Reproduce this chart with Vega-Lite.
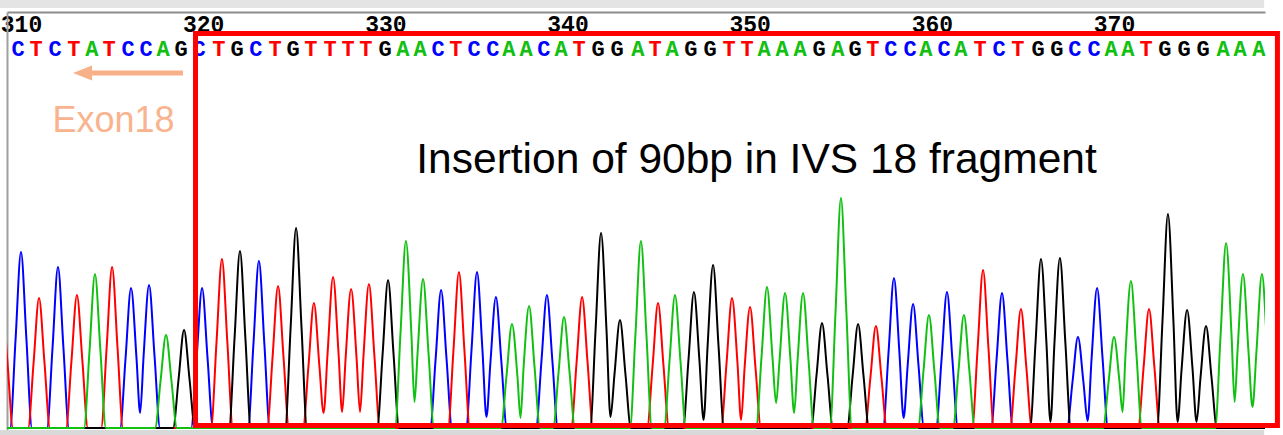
{
"$schema": "https://vega.github.io/schema/vega-lite/v6.json",
"width": 1258, "height": 423,
"autosize": {"type": "none"},
"padding": {"left": 7, "top": 12, "right": 18, "bottom": 0},
"background": "white",
"config": {"view": {"stroke": null}},
"datasets": {
"trace": [
{"c":"C","x":309.2,"y":0},{"c":"C","x":309.40,"y":0},{"c":"C","x":309.70,"y":88},{"c":"C","x":310.00,"y":176},{"c":"C","x":310.30,"y":88},{"c":"C","x":310.60,"y":0},
{"c":"C","x":311.43,"y":0},{"c":"C","x":311.73,"y":80},{"c":"C","x":312.03,"y":161},{"c":"C","x":312.33,"y":80},{"c":"C","x":312.63,"y":0},
{"c":"C","x":315.44,"y":0},{"c":"C","x":315.74,"y":70},{"c":"C","x":316.04,"y":140},{"c":"C","x":316.34,"y":70},{"c":"C","x":316.54,"y":15},{"c":"C","x":316.73,"y":72},{"c":"C","x":317.03,"y":143},{"c":"C","x":317.33,"y":72},{"c":"C","x":317.63,"y":0},
{"c":"C","x":319.34,"y":0},{"c":"C","x":319.64,"y":70},{"c":"C","x":319.94,"y":140},{"c":"C","x":320.24,"y":70},{"c":"C","x":320.54,"y":0},
{"c":"C","x":322.46,"y":0},{"c":"C","x":322.76,"y":84},{"c":"C","x":323.06,"y":167},{"c":"C","x":323.36,"y":84},{"c":"C","x":323.66,"y":0},
{"c":"C","x":332.46,"y":0},{"c":"C","x":332.76,"y":69},{"c":"C","x":333.06,"y":138},{"c":"C","x":333.36,"y":69},{"c":"C","x":333.66,"y":0},
{"c":"C","x":334.43,"y":0},{"c":"C","x":334.73,"y":78},{"c":"C","x":335.03,"y":156},{"c":"C","x":335.33,"y":78},{"c":"C","x":335.55,"y":11},{"c":"C","x":335.77,"y":66},{"c":"C","x":336.07,"y":131},{"c":"C","x":336.37,"y":66},{"c":"C","x":336.67,"y":0},
{"c":"C","x":338.27,"y":0},{"c":"C","x":338.57,"y":67},{"c":"C","x":338.87,"y":133},{"c":"C","x":339.17,"y":67},{"c":"C","x":339.47,"y":0},
{"c":"C","x":357.32,"y":0},{"c":"C","x":357.62,"y":75},{"c":"C","x":357.92,"y":150},{"c":"C","x":358.22,"y":75},{"c":"C","x":358.45,"y":10},{"c":"C","x":358.67,"y":62},{"c":"C","x":358.97,"y":124},{"c":"C","x":359.27,"y":62},{"c":"C","x":359.57,"y":0},
{"c":"C","x":360.23,"y":0},{"c":"C","x":360.53,"y":68},{"c":"C","x":360.83,"y":136},{"c":"C","x":361.13,"y":68},{"c":"C","x":361.43,"y":0},
{"c":"C","x":363.25,"y":0},{"c":"C","x":363.55,"y":68},{"c":"C","x":363.85,"y":135},{"c":"C","x":364.15,"y":68},{"c":"C","x":364.45,"y":0},
{"c":"C","x":367.42,"y":0},{"c":"C","x":367.72,"y":46},{"c":"C","x":368.02,"y":91},{"c":"C","x":368.32,"y":46},{"c":"C","x":368.55,"y":7},{"c":"C","x":368.77,"y":70},{"c":"C","x":369.07,"y":140},{"c":"C","x":369.37,"y":70},{"c":"C","x":369.67,"y":0},
{"c":"C","x":379,"y":0},

{"c":"T","x":308.36,"y":0},{"c":"T","x":308.66,"y":65},{"c":"T","x":308.96,"y":130},{"c":"T","x":309.26,"y":65},{"c":"T","x":309.56,"y":0},
{"c":"T","x":310.39,"y":0},{"c":"T","x":310.69,"y":65},{"c":"T","x":310.99,"y":130},{"c":"T","x":311.29,"y":65},{"c":"T","x":311.59,"y":0},
{"c":"T","x":312.47,"y":0},{"c":"T","x":312.77,"y":67},{"c":"T","x":313.07,"y":133},{"c":"T","x":313.37,"y":67},{"c":"T","x":313.67,"y":0},
{"c":"T","x":314.40,"y":0},{"c":"T","x":314.70,"y":80},{"c":"T","x":315.00,"y":161},{"c":"T","x":315.30,"y":80},{"c":"T","x":315.60,"y":0},
{"c":"T","x":320.43,"y":0},{"c":"T","x":320.73,"y":85},{"c":"T","x":321.03,"y":169},{"c":"T","x":321.33,"y":85},{"c":"T","x":321.63,"y":0},
{"c":"T","x":323.51,"y":0},{"c":"T","x":323.81,"y":71},{"c":"T","x":324.11,"y":142},{"c":"T","x":324.41,"y":71},{"c":"T","x":324.71,"y":0},
{"c":"T","x":325.48,"y":0},{"c":"T","x":325.78,"y":62},{"c":"T","x":326.08,"y":125},{"c":"T","x":326.38,"y":62},{"c":"T","x":326.61,"y":15},{"c":"T","x":326.83,"y":75},{"c":"T","x":327.13,"y":151},{"c":"T","x":327.43,"y":75},{"c":"T","x":327.63,"y":16},{"c":"T","x":327.82,"y":70},{"c":"T","x":328.12,"y":139},{"c":"T","x":328.42,"y":70},{"c":"T","x":328.61,"y":16},{"c":"T","x":328.80,"y":72},{"c":"T","x":329.10,"y":144},{"c":"T","x":329.40,"y":72},{"c":"T","x":329.70,"y":0},
{"c":"T","x":333.44,"y":0},{"c":"T","x":333.74,"y":78},{"c":"T","x":334.04,"y":156},{"c":"T","x":334.34,"y":78},{"c":"T","x":334.64,"y":0},
{"c":"T","x":340.20,"y":0},{"c":"T","x":340.50,"y":66},{"c":"T","x":340.80,"y":131},{"c":"T","x":341.10,"y":66},{"c":"T","x":341.40,"y":0},
{"c":"T","x":344.37,"y":0},{"c":"T","x":344.67,"y":62},{"c":"T","x":344.97,"y":125},{"c":"T","x":345.27,"y":62},{"c":"T","x":345.57,"y":0},
{"c":"T","x":348.43,"y":0},{"c":"T","x":348.73,"y":65},{"c":"T","x":349.03,"y":130},{"c":"T","x":349.33,"y":65},{"c":"T","x":349.53,"y":8},{"c":"T","x":349.72,"y":60},{"c":"T","x":350.02,"y":121},{"c":"T","x":350.32,"y":60},{"c":"T","x":350.62,"y":0},
{"c":"T","x":356.33,"y":0},{"c":"T","x":356.63,"y":51},{"c":"T","x":356.93,"y":102},{"c":"T","x":357.23,"y":51},{"c":"T","x":357.53,"y":0},
{"c":"T","x":362.21,"y":0},{"c":"T","x":362.51,"y":79},{"c":"T","x":362.81,"y":158},{"c":"T","x":363.11,"y":79},{"c":"T","x":363.41,"y":0},
{"c":"T","x":364.29,"y":0},{"c":"T","x":364.59,"y":60},{"c":"T","x":364.89,"y":119},{"c":"T","x":365.19,"y":60},{"c":"T","x":365.49,"y":0},
{"c":"T","x":371.32,"y":0},{"c":"T","x":371.62,"y":60},{"c":"T","x":371.92,"y":119},{"c":"T","x":372.22,"y":60},{"c":"T","x":372.52,"y":0},
{"c":"T","x":379,"y":0},

{"c":"G","x":309.2,"y":0},
{"c":"G","x":318.35,"y":0},{"c":"G","x":318.65,"y":49},{"c":"G","x":318.95,"y":98},{"c":"G","x":319.25,"y":49},{"c":"G","x":319.55,"y":0},
{"c":"G","x":321.42,"y":0},{"c":"G","x":321.72,"y":89},{"c":"G","x":322.02,"y":177},{"c":"G","x":322.32,"y":89},{"c":"G","x":322.62,"y":0},
{"c":"G","x":324.50,"y":0},{"c":"G","x":324.80,"y":100},{"c":"G","x":325.10,"y":200},{"c":"G","x":325.40,"y":100},{"c":"G","x":325.70,"y":0},
{"c":"G","x":329.55,"y":0},{"c":"G","x":329.85,"y":74},{"c":"G","x":330.15,"y":148},{"c":"G","x":330.45,"y":74},{"c":"G","x":330.75,"y":0},
{"c":"G","x":341.24,"y":0},{"c":"G","x":341.54,"y":98},{"c":"G","x":341.84,"y":195},{"c":"G","x":342.14,"y":98},{"c":"G","x":342.36,"y":11},{"c":"G","x":342.58,"y":54},{"c":"G","x":342.88,"y":108},{"c":"G","x":343.18,"y":54},{"c":"G","x":343.48,"y":0},
{"c":"G","x":346.34,"y":0},{"c":"G","x":346.64,"y":68},{"c":"G","x":346.94,"y":136},{"c":"G","x":347.24,"y":68},{"c":"G","x":347.47,"y":8},{"c":"G","x":347.69,"y":82},{"c":"G","x":347.99,"y":163},{"c":"G","x":348.29,"y":82},{"c":"G","x":348.59,"y":0},
{"c":"G","x":353.37,"y":0},{"c":"G","x":353.67,"y":53},{"c":"G","x":353.97,"y":105},{"c":"G","x":354.27,"y":53},{"c":"G","x":354.57,"y":0},
{"c":"G","x":355.35,"y":0},{"c":"G","x":355.65,"y":52},{"c":"G","x":355.95,"y":104},{"c":"G","x":356.25,"y":52},{"c":"G","x":356.55,"y":0},
{"c":"G","x":365.39,"y":0},{"c":"G","x":365.69,"y":85},{"c":"G","x":365.99,"y":169},{"c":"G","x":366.29,"y":85},{"c":"G","x":366.51,"y":6},{"c":"G","x":366.73,"y":85},{"c":"G","x":367.03,"y":170},{"c":"G","x":367.33,"y":85},{"c":"G","x":367.63,"y":0},
{"c":"G","x":372.36,"y":0},{"c":"G","x":372.66,"y":107},{"c":"G","x":372.96,"y":214},{"c":"G","x":373.26,"y":107},{"c":"G","x":373.49,"y":6},{"c":"G","x":373.71,"y":59},{"c":"G","x":374.01,"y":118},{"c":"G","x":374.31,"y":59},{"c":"G","x":374.53,"y":6},{"c":"G","x":374.75,"y":51},{"c":"G","x":375.05,"y":102},{"c":"G","x":375.35,"y":51},{"c":"G","x":375.65,"y":0},
{"c":"G","x":379,"y":0},

{"c":"A","x":309.2,"y":0},
{"c":"A","x":313.46,"y":0},{"c":"A","x":313.76,"y":77},{"c":"A","x":314.06,"y":154},{"c":"A","x":314.36,"y":77},{"c":"A","x":314.66,"y":0},
{"c":"A","x":317.36,"y":0},{"c":"A","x":317.66,"y":47},{"c":"A","x":317.96,"y":93},{"c":"A","x":318.26,"y":47},{"c":"A","x":318.56,"y":0},
{"c":"A","x":330.53,"y":0},{"c":"A","x":330.83,"y":94},{"c":"A","x":331.13,"y":187},{"c":"A","x":331.43,"y":94},{"c":"A","x":331.60,"y":26},{"c":"A","x":331.77,"y":75},{"c":"A","x":332.07,"y":149},{"c":"A","x":332.37,"y":75},{"c":"A","x":332.67,"y":0},
{"c":"A","x":336.35,"y":0},{"c":"A","x":336.65,"y":52},{"c":"A","x":336.95,"y":104},{"c":"A","x":337.25,"y":52},{"c":"A","x":337.42,"y":10},{"c":"A","x":337.59,"y":61},{"c":"A","x":337.89,"y":122},{"c":"A","x":338.19,"y":61},{"c":"A","x":338.49,"y":0},
{"c":"A","x":339.21,"y":0},{"c":"A","x":339.51,"y":56},{"c":"A","x":339.81,"y":111},{"c":"A","x":340.11,"y":56},{"c":"A","x":340.41,"y":0},
{"c":"A","x":343.43,"y":0},{"c":"A","x":343.73,"y":94},{"c":"A","x":344.03,"y":187},{"c":"A","x":344.33,"y":94},{"c":"A","x":344.63,"y":0},
{"c":"A","x":345.30,"y":0},{"c":"A","x":345.60,"y":67},{"c":"A","x":345.90,"y":133},{"c":"A","x":346.20,"y":67},{"c":"A","x":346.50,"y":0},
{"c":"A","x":350.35,"y":0},{"c":"A","x":350.65,"y":71},{"c":"A","x":350.95,"y":141},{"c":"A","x":351.25,"y":71},{"c":"A","x":351.45,"y":25},{"c":"A","x":351.64,"y":68},{"c":"A","x":351.94,"y":135},{"c":"A","x":352.24,"y":68},{"c":"A","x":352.44,"y":15},{"c":"A","x":352.63,"y":68},{"c":"A","x":352.93,"y":135},{"c":"A","x":353.23,"y":68},{"c":"A","x":353.53,"y":0},
{"c":"A","x":354.41,"y":0},{"c":"A","x":354.71,"y":115},{"c":"A","x":355.01,"y":230},{"c":"A","x":355.31,"y":115},{"c":"A","x":355.61,"y":0},
{"c":"A","x":359.24,"y":0},{"c":"A","x":359.54,"y":57},{"c":"A","x":359.84,"y":113},{"c":"A","x":360.14,"y":57},{"c":"A","x":360.44,"y":0},
{"c":"A","x":361.16,"y":0},{"c":"A","x":361.46,"y":57},{"c":"A","x":361.76,"y":113},{"c":"A","x":362.06,"y":57},{"c":"A","x":362.36,"y":0},
{"c":"A","x":369.40,"y":0},{"c":"A","x":369.70,"y":46},{"c":"A","x":370.00,"y":91},{"c":"A","x":370.30,"y":46},{"c":"A","x":370.47,"y":16},{"c":"A","x":370.63,"y":74},{"c":"A","x":370.93,"y":147},{"c":"A","x":371.23,"y":74},{"c":"A","x":371.53,"y":0},
{"c":"A","x":375.55,"y":0},{"c":"A","x":375.85,"y":93},{"c":"A","x":376.15,"y":185},{"c":"A","x":376.45,"y":93},{"c":"A","x":376.62,"y":26},{"c":"A","x":376.78,"y":77},{"c":"A","x":377.08,"y":154},{"c":"A","x":377.38,"y":77},{"c":"A","x":377.60,"y":21},{"c":"A","x":377.82,"y":77},{"c":"A","x":378.12,"y":154},{"c":"A","x":378.42,"y":77},{"c":"A","x":378.72,"y":0},
{"c":"A","x":379,"y":0}
],
"bases": [
{"n":310,"b":"C","x":310.00},{"n":311,"b":"T","x":310.99},{"n":312,"b":"C","x":312.03},{"n":313,"b":"T","x":313.07},{"n":314,"b":"A","x":314.06},
{"n":315,"b":"T","x":315.00},{"n":316,"b":"C","x":316.04},{"n":317,"b":"C","x":317.03},{"n":318,"b":"A","x":317.96},{"n":319,"b":"G","x":318.95},
{"n":320,"b":"C","x":319.94},{"n":321,"b":"T","x":321.03},{"n":322,"b":"G","x":322.02},{"n":323,"b":"C","x":323.06},{"n":324,"b":"T","x":324.11},
{"n":325,"b":"G","x":325.10},{"n":326,"b":"T","x":326.08},{"n":327,"b":"T","x":327.13},{"n":328,"b":"T","x":328.12},{"n":329,"b":"T","x":329.10},
{"n":330,"b":"G","x":330.15},{"n":331,"b":"A","x":331.13},{"n":332,"b":"A","x":332.07},{"n":333,"b":"C","x":333.06},{"n":334,"b":"T","x":334.04},
{"n":335,"b":"C","x":335.03},{"n":336,"b":"C","x":336.07},{"n":337,"b":"A","x":336.95},{"n":338,"b":"A","x":337.89},{"n":339,"b":"C","x":338.87},
{"n":340,"b":"A","x":339.81},{"n":341,"b":"T","x":340.80},{"n":342,"b":"G","x":341.84},{"n":343,"b":"G","x":342.88},{"n":344,"b":"A","x":344.03},
{"n":345,"b":"T","x":344.97},{"n":346,"b":"A","x":345.90},{"n":347,"b":"G","x":346.94},{"n":348,"b":"G","x":347.99},{"n":349,"b":"T","x":349.03},
{"n":350,"b":"T","x":350.02},{"n":351,"b":"A","x":350.95},{"n":352,"b":"A","x":351.94},{"n":353,"b":"A","x":352.93},{"n":354,"b":"G","x":353.97},
{"n":355,"b":"A","x":355.01},{"n":356,"b":"G","x":355.95},{"n":357,"b":"T","x":356.93},{"n":358,"b":"C","x":357.92},{"n":359,"b":"C","x":358.97},
{"n":360,"b":"A","x":359.84},{"n":361,"b":"C","x":360.83},{"n":362,"b":"A","x":361.76},{"n":363,"b":"T","x":362.81},{"n":364,"b":"C","x":363.85},
{"n":365,"b":"T","x":364.89},{"n":366,"b":"G","x":365.99},{"n":367,"b":"G","x":367.03},{"n":368,"b":"C","x":368.02},{"n":369,"b":"C","x":369.07},
{"n":370,"b":"A","x":370.00},{"n":371,"b":"A","x":370.93},{"n":372,"b":"T","x":371.92},{"n":373,"b":"G","x":372.96},{"n":374,"b":"G","x":374.01},
{"n":375,"b":"G","x":375.05},{"n":376,"b":"A","x":376.15},{"n":377,"b":"A","x":377.08},{"n":378,"b":"A","x":378.12}
]
},
"layer": [
{
"data": {"values": [{}]},
"mark": {"type": "rect", "fill": "#e4e4e4"},
"encoding": {
"x": {"datum": 308.85}, "x2": {"datum": 378.24},
"y": {"datum": 420}, "y2": {"datum": 428}
}
},
{
"data": {"values": [{}]},
"mark": {"type": "rect", "fill": "#d9d9d9"},
"encoding": {
"x": {"datum": 308.85}, "x2": {"datum": 378.24},
"y": {"datum": -7}, "y2": {"datum": -2}
}
},
{
"data": {"name": "trace"},
"mark": {"type": "line", "interpolate": "monotone", "strokeWidth": 2, "clip": true},
"encoding": {
"x": {"field": "x", "type": "quantitative",
"scale": {"domain": [309.2315, 378.2875], "nice": false, "zero": false},
"axis": {"orient": "top", "title": null, "values": [310,320,330,340,350,360,370], "ticks": false, "tickSize": 0, "grid": false,
"domain": true, "domainColor": "#8c8c8c", "domainWidth": 2,
"labelPadding": -19, "labelBaseline": "alphabetic", "labelFlush": false, "labelOverlap": false, "labelBound": false,
"labelFont": "Liberation Mono", "labelFontWeight": "bold", "labelFontSize": 23, "labelColor": "#000000"}},
"y": {"field": "y", "type": "quantitative",
"scale": {"domain": [-7, 416], "nice": false, "zero": false},
"axis": {"orient": "left", "title": null, "ticks": false, "labels": false, "grid": false, "domain": true, "domainColor": "#a0a0a0", "domainWidth": 2}},
"color": {"field": "c", "type": "nominal", "legend": null,
"scale": {"domain": ["A","C","G","T"], "range": ["#12c012","#0000ff","#000000","#ff0000"]}}
}
},
{
"data": {"name": "bases"},
"mark": {"type": "text", "font": "Liberation Mono", "fontWeight": "bold", "fontSize": 22, "baseline": "alphabetic", "align": "center", "dx": -3},
"encoding": {
"x": {"field": "x", "type": "quantitative"},
"y": {"datum": 372},
"text": {"field": "b"},
"color": {"field": "b", "type": "nominal", "legend": null,
"scale": {"domain": ["A","C","G","T"], "range": ["#12c012","#0000ff","#000000","#ff0000"]}}
}
},
{
"data": {"values": [{}]},
"mark": {"type": "rect", "fillOpacity": 0, "fill": "white", "stroke": "#ff0000", "strokeWidth": 5},
"encoding": {
"x": {"datum": 319.58}, "x2": {"datum": 378.97},
"y": {"datum": 2.5}, "y2": {"datum": 394.5}
}
},
{
"data": {"values": [{}]},
"mark": {"type": "rule", "color": "#f8b088", "strokeWidth": 5},
"encoding": {
"x": {"datum": 318.89}, "x2": {"datum": 313.9},
"y": {"datum": 355}
}
},
{
"data": {"values": [{}]},
"mark": {"type": "point", "shape": "M -1 0 L 1 -0.79 L 1 0.79 Z", "size": 361, "filled": true, "color": "#f8b088", "opacity": 1, "strokeWidth": 0},
"encoding": {
"x": {"datum": 313.376},
"y": {"datum": 355}
}
},
{
"data": {"values": [{}]},
"mark": {"type": "text", "text": "Exon18", "font": "Liberation Sans", "fontSize": 36, "color": "#f9b38e", "align": "center", "baseline": "alphabetic"},
"encoding": {
"x": {"datum": 315.08},
"y": {"datum": 296}
}
},
{
"data": {"values": [{}]},
"mark": {"type": "text", "text": "Insertion of 90bp in IVS 18 fragment", "font": "Liberation Sans", "fontSize": 42.5, "color": "#000000", "align": "center", "baseline": "alphabetic"},
"encoding": {
"x": {"datum": 350.375},
"y": {"datum": 255}
}
}
]
}
